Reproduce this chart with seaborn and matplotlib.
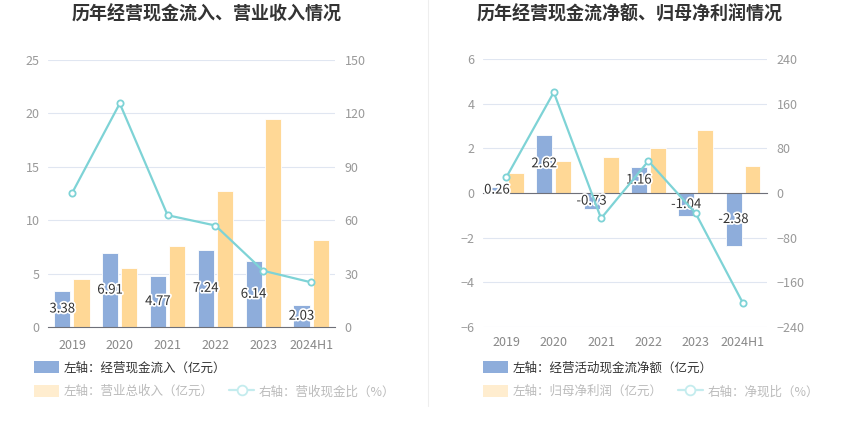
import pandas as pd
import matplotlib
matplotlib.use("Agg")
import matplotlib.pyplot as plt
import matplotlib.patheffects as pe
from matplotlib.patches import Patch
from matplotlib.lines import Line2D
import seaborn as sns

years = ["2019", "2020", "2021", "2022", "2023", "2024H1"]

# left chart
cash_in = [3.38, 6.91, 4.77, 7.24, 6.14, 2.03]
revenue = [4.5, 5.5, 7.6, 12.7, 19.45, 8.1]
cash_ratio = [75.1, 125.6, 62.8, 57.0, 31.6, 25.1]

# right chart
net_cash = [0.26, 2.62, -0.73, 1.16, -1.04, -2.38]
net_profit = [0.91, 1.45, 1.6, 2.02, 2.83, 1.2]
net_ratio = [28.6, 180.7, -45.6, 57.4, -36.7, -198.0]

BLUE = "#8EADDB"
ORANGE = "#FFD896"
CYAN = "#7ED3D6"
GRID = "#E0E6F1"
AXIS = "#6E7079"
TICK = "#999999"

sns.set_style("white")
plt.rcParams["font.family"] = ["Noto Sans CJK SC", "DejaVu Sans"]

fig = plt.figure(figsize=(8.5, 4.37), dpi=100)
ax_l = fig.add_axes([0.0565, 0.2517, 0.3376, 0.611])
ax_r = fig.add_axes([0.568, 0.2524, 0.334, 0.612])


def draw_panel(ax, bar1, bar2, ratio, names, ylim, yticks, ylim2, yticks2):
    df = pd.DataFrame({
        "year": years * 2,
        "value": bar1 + bar2,
        "series": [names[0]] * len(years) + [names[1]] * len(years),
    })
    sns.barplot(data=df, x="year", y="value", hue="series",
                palette=[BLUE, ORANGE], gap=0.16, ax=ax, legend=False,
                edgecolor="white", linewidth=0.6, saturation=1, zorder=2)
    ax.set_ylim(*ylim)
    ax.set_yticks(yticks)
    ax.grid(axis="y", color=GRID, linewidth=0.8, zorder=0)
    ax.set_axisbelow(True)
    for s in ["left", "right", "top"]:
        ax.spines[s].set_visible(False)
    ax.spines["bottom"].set_color(AXIS)
    ax.tick_params(axis="y", length=0, labelcolor=TICK, labelsize=9, pad=6)
    ax.tick_params(axis="x", length=5, color=AXIS, labelcolor="#888888",
                   labelsize=9, direction="out")
    ax.set_xlabel("")
    ax.set_ylabel("")

    labels = ax.bar_label(ax.containers[0], labels=[f"{v:.2f}" for v in bar1],
                          label_type="center", fontsize=9.5, color="#333333")
    for t in labels:
        t.set_path_effects([pe.withStroke(linewidth=2.5, foreground="white")])

    ax2 = ax.twinx()
    sns.pointplot(x=years, y=ratio, ax=ax2, color=CYAN, errorbar=None,
                  markers="o", markersize=4.5, markerfacecolor="white",
                  markeredgewidth=1.3, linewidth=1.6)
    ax2.set_ylim(*ylim2)
    ax2.set_yticks(yticks2)
    ax2.set_ylabel("")
    for s in ax2.spines.values():
        s.set_visible(False)
    ax2.tick_params(axis="y", length=0, labelcolor=TICK, labelsize=9, pad=7)
    ax2.set_xlim(-0.5, len(years) - 0.5)
    return ax2


draw_panel(ax_l, cash_in, revenue, cash_ratio, ["经营现金流入", "营业总收入"],
           (0, 25), range(0, 26, 5), (0, 150), range(0, 151, 30))
draw_panel(ax_r, net_cash, net_profit, net_ratio, ["经营活动现金流净额", "归母净利润"],
           (-6, 6), range(-6, 7, 2), (-240, 240), range(-240, 241, 80))

# right chart: axis line sits on zero, labels stay at the bottom
ax_r.spines["bottom"].set_position(("data", 0))
ax_r.tick_params(axis="x", pad=98)

fig.text(0.243, 0.968, "历年经营现金流入、营业收入情况", ha="center", va="center",
         fontsize=13, fontweight="bold", color="#333333")
fig.text(0.741, 0.968, "历年经营现金流净额、归母净利润情况", ha="center", va="center",
         fontsize=13, fontweight="bold", color="#333333")

fig.add_artist(Line2D([0.503, 0.503], [0.07, 1.0], color="#EEEEEE", linewidth=0.8))


def add_legends(x, first, second, third):
    h1 = [Patch(facecolor=BLUE, edgecolor="none")]
    leg1 = fig.legend(h1, [first], loc="upper left", bbox_to_anchor=(x, 0.174),
                      frameon=False, fontsize=9, borderpad=0, borderaxespad=0,
                      handlelength=2.0, handleheight=1.1, handletextpad=0.4)
    for t in leg1.get_texts():
        t.set_color("#333333")
    h2 = [Patch(facecolor="#FFEDCF", edgecolor="none"),
          Line2D([], [], color="#C4ECEE", marker="o", markersize=7,
                 markerfacecolor="white", markeredgewidth=1.3, linewidth=1.6)]
    leg2 = fig.legend(h2, [second, third], loc="upper left", bbox_to_anchor=(x, 0.119),
                      ncol=2, frameon=False, fontsize=9, borderpad=0, borderaxespad=0,
                      handlelength=2.0, handleheight=1.1, handletextpad=0.4,
                      columnspacing=1.2)
    for t in leg2.get_texts():
        t.set_color("#BBBBBB")


add_legends(0.04, "左轴：经营现金流入（亿元）", "左轴：营业总收入（亿元）", "右轴：营收现金比（%）")
add_legends(0.568, "左轴：经营活动现金流净额（亿元）", "左轴：归母净利润（亿元）", "右轴：净现比（%）")

fig.savefig("out.png", dpi=100)
